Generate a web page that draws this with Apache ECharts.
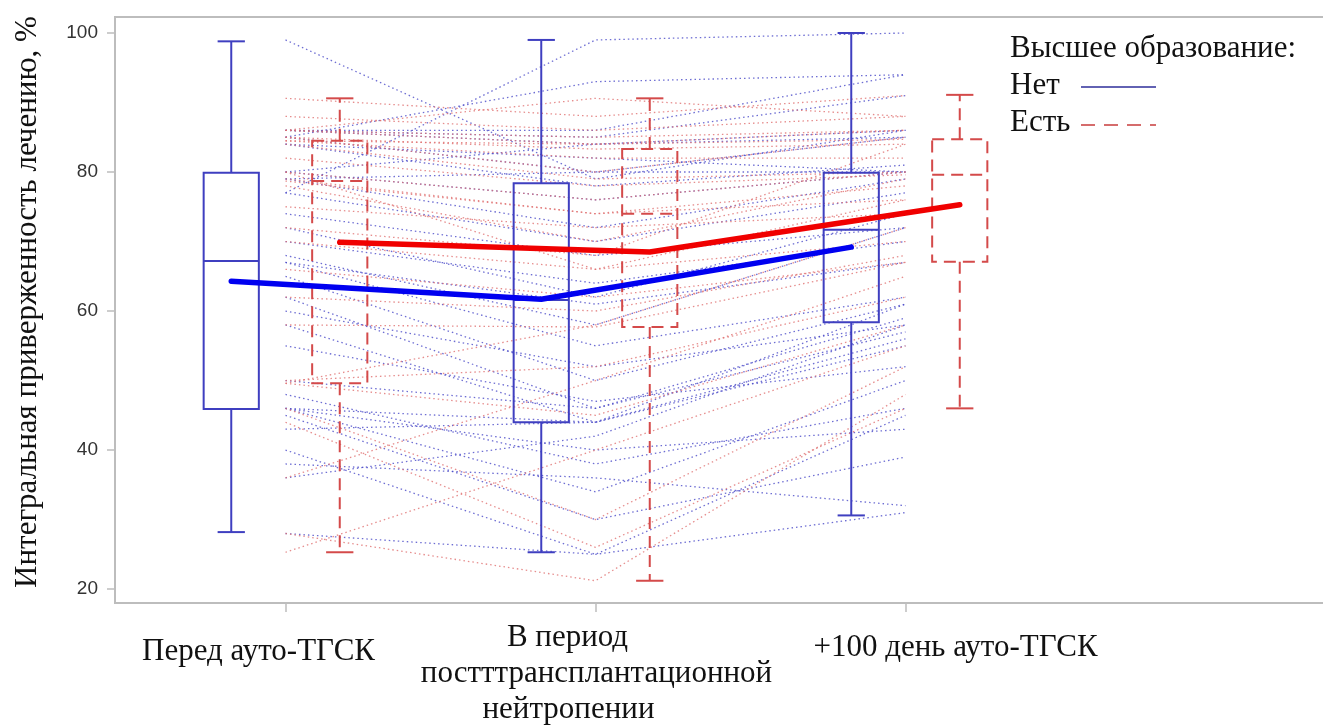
<!DOCTYPE html>
<html><head><meta charset="utf-8">
<script src="https://cdn.jsdelivr.net/npm/echarts@6/dist/echarts.min.js"></script>
<style>html,body{margin:0;padding:0;background:#fff}#c{width:1323px;height:726px}</style>
</head><body><div id="c"></div>
<script>
// ---- data ----
const categories = ['Перед ауто-ТГСК', 'В период\nпостттрансплантационной\nнейтропении', '+100 день ауто-ТГСК'];
const yTicks = [20, 40, 60, 80, 100];
const groupNames = ['Нет', 'Есть'];
// box stats per time point: [min, q1, median, q3, max]
const boxNo  = [[28.2, 45.9, 67.2, 79.9, 98.8], [25.3, 44.0, 61.6, 78.4, 99.0], [30.6, 58.4, 71.7, 79.9, 100.0]];
const boxYes = [[25.3, 49.6, 78.7, 84.5, 90.6], [21.2, 57.7, 74.0, 83.3, 90.6], [46.0, 67.1, 79.6, 84.7, 91.1]];
const meanNo  = [64.3, 61.7, 69.2];
const meanYes = [69.9, 68.5, 75.3];
// individual patients: [before, neutropenia, day +100]
const patientsNo = [
  [99, 79, 86], [77, 99, 100], [86, 85, 91], [86, 84, 85], [85, 80, 80], [84, 78, 81],
  [80, 84, 86], [80, 76, 80], [79, 72, 79], [77, 70, 77], [74, 68, 72], [72, 62, 74],
  [70, 64, 70], [68, 58, 72], [67, 61, 67], [67, 55, 62], [65, 50, 61], [62, 46, 57],
  [60, 52, 58], [58, 44, 55], [55, 47, 52], [50, 46, 59], [48, 38, 46], [46, 44, 56],
  [46, 40, 43], [46, 34, 50], [45, 30, 39], [43, 44, 61], [40, 25, 45], [38, 36, 32],
  [36, 42, 58], [28, 25, 31], [86, 86, 94], [84, 82, 80], [85, 93, 94], [79, 80, 85]
];
const patientsYes = [
  [90.6, 88, 91], [88, 86, 88], [86, 85, 86], [86, 84, 84.7], [85, 83.3, 84], [85, 80, 85],
  [84.5, 82, 82], [84, 79, 80], [82, 78, 79.6], [80, 76, 80], [79, 74, 78], [78.7, 74, 76],
  [78, 70, 79], [75, 72, 74], [70, 66, 70], [66, 62, 67], [62, 60, 68], [58, 57.7, 67],
  [50, 52, 62], [49.6, 58, 72], [49.6, 45, 58], [46, 30, 52], [44, 26, 46], [36, 50, 65],
  [28, 21.2, 48], [25.3, 40, 55], [86, 90.6, 88], [84.5, 84, 86], [80, 66, 76], [72, 68, 84]
];

// ---- styling / layout ----
const BLUE_BOX = '#3f3fc0', RED_BOX = '#d44a4a';
const OFF = 0.175, HALF = 0.089, CAP = 0.044;
const GRID_L = 115, GRID_T = 17, GRID_R = -5, GRID_B = 123;
const X_MIN = 0.45, X_MAX = X_MIN + (1323 - GRID_R - GRID_L) / 310;

const chart = echarts.init(document.getElementById('c'), null, {renderer: 'canvas'});

function boxSeries(stats, offset, color, dash, name) {
  return {
    type: 'custom', name: name, z: 5, silent: true,
    data: stats.map((s, i) => [i + 1].concat(s)),
    encode: {x: 0, y: [1, 2, 3, 4, 5]},
    renderItem: function (params, api) {
      const cx = api.value(0) + offset;
      const mn = api.value(1), q1 = api.value(2), md = api.value(3), q3 = api.value(4), mx = api.value(5);
      const pL = api.coord([cx - HALF, q3]), pR = api.coord([cx + HALF, q1]);
      const st = {stroke: color, lineWidth: 2, fill: 'none', lineDash: dash};
      const stCap = {stroke: color, lineWidth: 2, fill: 'none'};
      const line = (a, b, s) => ({type: 'line', shape: {x1: a[0], y1: a[1], x2: b[0], y2: b[1]}, style: s});
      return {type: 'group', children: [
        {type: 'rect', shape: {x: pL[0], y: pL[1], width: pR[0] - pL[0], height: pR[1] - pL[1]}, style: st},
        line(api.coord([cx - HALF, md]), api.coord([cx + HALF, md]), st),
        line(api.coord([cx, q3]), api.coord([cx, mx]), st),
        line(api.coord([cx, q1]), api.coord([cx, mn]), st),
        line(api.coord([cx - CAP, mx]), api.coord([cx + CAP, mx]), stCap),
        line(api.coord([cx - CAP, mn]), api.coord([cx + CAP, mn]), stCap)
      ]};
    }
  };
}

function patientSeries(list, color) {
  return list.map(p => ({
    type: 'line', silent: true, symbol: 'none', z: 1, animation: false,
    data: p.map((v, i) => [i + 1, v]),
    lineStyle: {color: color, width: 1.3, type: [1.5, 3], opacity: 0.8}
  }));
}

function meanSeries(vals, offset, color) {
  return {
    type: 'line', silent: true, symbol: 'none', z: 10, animation: false,
    data: vals.map((v, i) => [i + 1 + offset, v]),
    lineStyle: {color: color, width: 5.5, cap: 'round'}
  };
}

const F = {fontFamily: 'Liberation Serif', fontSize: 31, color: '#111', lineHeight: 37};
const G = {fontFamily: 'Liberation Serif', fontSize: 31, color: '#111', lineHeight: 36};
const labelRich = {
  a: Object.assign({}, F, {padding: [16, 54, 0, 0]}),
  b1: Object.assign({}, G, {padding: [0, 56, 0, 0]}),
  b2: Object.assign({}, G, {padding: [0, 0, 0, 2]}),
  b3: Object.assign({}, G, {padding: [0, 54, 0, 0]}),
  c: Object.assign({}, F, {padding: [8, 0, 0, 100]})
};
function fmt(v) {
  const i = Math.round(Number(v)) - 1;
  if (i === 0) return '{a|' + categories[0] + '}';
  if (i === 1) { const L = categories[1].split('\n'); return '{b1|' + L[0] + '}\n{b2|' + L[1] + '}\n{b3|' + L[2] + '}'; }
  if (i === 2) return '{c|' + categories[2] + '}';
  return '';
}
function xAxisDef(vals, showLine, margin) {
  return {
    type: 'value', min: X_MIN, max: X_MAX, position: 'bottom', offset: 0,
    splitLine: {show: false},
    axisLine: {show: showLine, lineStyle: {color: '#bdbdbd', width: 2}},
    axisTick: {show: true, length: 9, customValues: vals, lineStyle: {color: '#bdbdbd', width: 1.5}},
    axisLabel: {customValues: vals, margin: margin, hideOverlap: false, formatter: fmt, rich: labelRich}
  };
}

const option = {
  backgroundColor: '#fff',
  animation: false,
  grid: {left: GRID_L, top: GRID_T, right: GRID_R, bottom: GRID_B, show: true, borderColor: '#bdbdbd', borderWidth: 2,
         containLabel: false, outerBoundsMode: 'none'},
  xAxis: [xAxisDef([1, 3], true, 22), xAxisDef([2], false, 17)],
  yAxis: {
    type: 'value', min: 18, max: 102.3,
    name: 'Интегральная приверженность лечению, %',
    nameLocation: 'middle', nameRotate: 90, nameGap: 72,
    nameTextStyle: {fontFamily: 'Liberation Serif', fontSize: 31, color: '#111', padding: [0, 0, 0, 16]},
    splitLine: {show: false},
    axisLine: {show: true, lineStyle: {color: '#bdbdbd', width: 2}},
    axisTick: {show: true, length: 8, customValues: yTicks, lineStyle: {color: '#bdbdbd', width: 1.5}},
    axisLabel: {customValues: yTicks, margin: 17, fontFamily: 'Liberation Sans', fontSize: 19, color: '#333'}
  },
  series: [].concat(
    patientSeries(patientsNo, '#4a4ac8'),
    patientSeries(patientsYes, '#e07070'),
    [boxSeries(boxNo, -OFF, BLUE_BOX, null, groupNames[0]),
     boxSeries(boxYes, OFF, RED_BOX, [12, 7], groupNames[1]),
     meanSeries(meanNo, -OFF, '#0000f0'),
     meanSeries(meanYes, OFF, '#f00000')]
  ),
  graphic: [
    {type: 'text', left: 1010, top: 33, style: {text: 'Высшее образование:', font: '31px "Liberation Serif"', fill: '#111'}},
    {type: 'text', left: 1010, top: 70, style: {text: groupNames[0], font: '31px "Liberation Serif"', fill: '#111'}},
    {type: 'line', shape: {x1: 1081, y1: 87, x2: 1156, y2: 87}, style: {stroke: '#2e2e9a', lineWidth: 1.5}},
    {type: 'text', left: 1010, top: 107, style: {text: groupNames[1], font: '31px "Liberation Serif"', fill: '#111'}},
    {type: 'line', shape: {x1: 1081, y1: 125, x2: 1156, y2: 125}, style: {stroke: '#c83c3c', lineWidth: 1.5, lineDash: [14, 9]}}
  ]
};
chart.setOption(option);
</script>
</body></html>
